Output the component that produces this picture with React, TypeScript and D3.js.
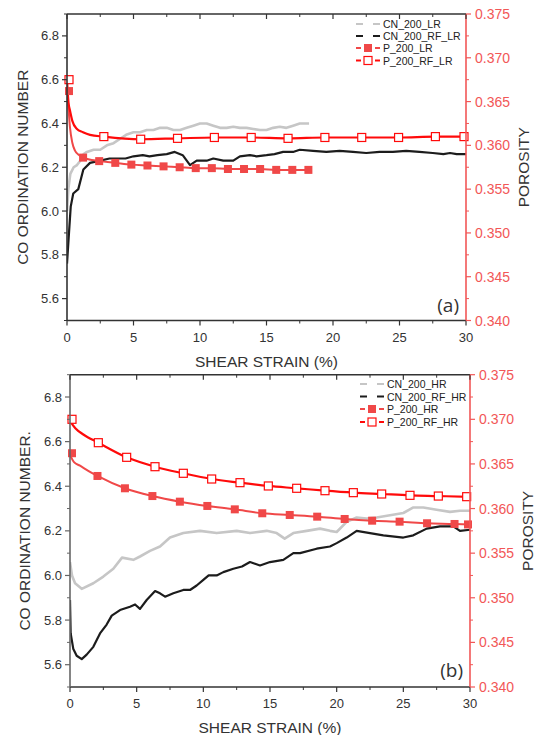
import React from 'react';
import * as d3 from 'd3';

// ---------- shared ticks ----------
const strainTicks = [0, 5, 10, 15, 20, 25, 30];
const strainMinor = [2.5, 7.5, 12.5, 17.5, 22.5, 27.5];
const cnTicks = [5.6, 5.8, 6.0, 6.2, 6.4, 6.6, 6.8];
const cnMinor = [5.5, 5.7, 5.9, 6.1, 6.3, 6.5, 6.7, 6.9];
const porTicks = [0.34, 0.345, 0.35, 0.355, 0.36, 0.365, 0.37, 0.375];
const porMinor = [0.3425, 0.3475, 0.3525, 0.3575, 0.3625, 0.3675, 0.3725];

// ---------- panel (a) ----------
const cnLR_x = [0, 0.1, 0.25, 0.5, 0.75, 1, 1.25, 1.5, 2, 2.5, 3, 3.5, 4, 4.5, 5, 5.5, 6, 6.5, 7, 7.5, 8, 8.5, 9, 9.5, 10, 10.5, 11, 11.5, 12, 12.5, 13, 13.5, 14, 14.5, 15, 15.5, 16, 16.5, 17, 17.5, 18, 18.2];
const cnLR_y = [6.0, 6.1, 6.17, 6.2, 6.21, 6.23, 6.26, 6.27, 6.28, 6.28, 6.3, 6.31, 6.33, 6.35, 6.36, 6.36, 6.37, 6.37, 6.38, 6.38, 6.37, 6.37, 6.38, 6.39, 6.4, 6.4, 6.39, 6.38, 6.38, 6.385, 6.38, 6.38, 6.375, 6.37, 6.37, 6.38, 6.385, 6.38, 6.39, 6.4, 6.4, 6.4];

const cnRFLR_x = [0, 0.15, 0.28, 0.47, 0.85, 1.23, 1.73, 2.5, 3.2, 3.7, 4.4, 5, 5.7, 6.2, 6.8, 7.5, 8.1, 8.7, 9.25, 9.75, 10.5, 11, 11.75, 12.5, 13, 13.75, 14.25, 15, 15.6, 16.25, 17, 17.5, 18.5, 19.5, 20.5, 21.5, 22.5, 23.5, 24.5, 25.5, 26.5, 27.5, 28.3, 28.8, 29.3, 30];
const cnRFLR_y = [5.76, 5.9, 6.02, 6.08, 6.1, 6.19, 6.22, 6.23, 6.24, 6.24, 6.24, 6.25, 6.255, 6.25, 6.255, 6.26, 6.27, 6.255, 6.21, 6.23, 6.23, 6.24, 6.23, 6.23, 6.25, 6.255, 6.25, 6.255, 6.26, 6.27, 6.27, 6.28, 6.275, 6.27, 6.275, 6.27, 6.265, 6.27, 6.27, 6.275, 6.27, 6.265, 6.26, 6.265, 6.26, 6.26];

const pLR_mx = [0.15, 1.21, 2.42, 3.63, 4.84, 6.05, 7.26, 8.47, 9.68, 10.89, 12.1, 13.31, 14.52, 15.73, 16.94, 18.15];
const pLR_my = [0.3662, 0.3586, 0.3582, 0.358, 0.3578, 0.3577, 0.3576, 0.3575, 0.3574, 0.3574, 0.3573, 0.3573, 0.3573, 0.3572, 0.3572, 0.3572];
const pLR_lx = [0, 0.1, 0.22, 0.4, 0.6, 0.9, 1.21, 2.42, 3.63, 4.84, 6.05, 7.26, 8.47, 9.68, 10.89, 12.1, 13.31, 14.52, 15.73, 16.94, 18.15];
const pLR_ly = [0.3662, 0.3645, 0.3621, 0.3603, 0.3594, 0.3589, 0.3586, 0.3582, 0.358, 0.3578, 0.3577, 0.3576, 0.3575, 0.3574, 0.3574, 0.3573, 0.3573, 0.3573, 0.3572, 0.3572, 0.3572];

const pRFLR_mx = [0.15, 2.77, 5.54, 8.31, 11.08, 13.85, 16.62, 19.39, 22.16, 24.93, 27.7, 29.85];
const pRFLR_my = [0.3675, 0.361, 0.3607, 0.3608, 0.3609, 0.3609, 0.3608, 0.3609, 0.3609, 0.3609, 0.361, 0.361];
const pRFLR_lx = [0, 0.05, 0.12, 0.22, 0.4, 0.73, 1.2, 1.73, 2.77, 5.54, 8.31, 11.08, 13.85, 16.62, 19.39, 22.16, 24.93, 27.7, 30];
const pRFLR_ly = [0.3675, 0.3662, 0.3648, 0.364, 0.3628, 0.3619, 0.3615, 0.3612, 0.361, 0.3607, 0.3608, 0.3609, 0.3609, 0.3608, 0.3609, 0.3609, 0.3609, 0.361, 0.361];

// ---------- panel (b) ----------
const cnHR_x = [0, 0.15, 0.38, 0.88, 1.75, 2.5, 3.25, 3.9, 4.75, 5.25, 6, 6.75, 7.5, 8.5, 9.75, 11, 12.5, 13.5, 14.75, 15.5, 16.1, 16.75, 17.75, 18.75, 19.5, 20, 20.75, 21.5, 22.25, 23, 24, 25, 25.75, 26.5, 27.5, 28.5, 29.25, 30];
const cnHR_y = [6.06, 6.0, 5.965, 5.94, 5.965, 5.995, 6.03, 6.08, 6.07, 6.085, 6.11, 6.13, 6.17, 6.19, 6.2, 6.19, 6.2, 6.19, 6.2, 6.19, 6.165, 6.19, 6.2, 6.21, 6.2, 6.195, 6.24, 6.26, 6.255, 6.26, 6.27, 6.28, 6.305, 6.305, 6.295, 6.285, 6.29, 6.29];

const cnRFHR_x = [0, 0.05, 0.25, 0.5, 0.88, 1.25, 1.75, 2.25, 2.75, 3.13, 3.75, 4.5, 4.88, 5.25, 5.75, 6.38, 6.75, 7.13, 7.75, 8.5, 9, 9.5, 10, 10.4, 11, 11.5, 12.25, 12.9, 13.5, 14.25, 15, 16, 16.75, 17.25, 18.5, 19.5, 20, 20.75, 21.5, 22.5, 23.5, 25, 25.75, 26.75, 27.75, 28.75, 29.25, 30];
const cnRFHR_y = [5.89, 5.74, 5.67, 5.64, 5.625, 5.645, 5.68, 5.74, 5.78, 5.82, 5.845, 5.86, 5.87, 5.85, 5.89, 5.93, 5.92, 5.905, 5.92, 5.935, 5.935, 5.955, 5.98, 6.0, 6.0, 6.015, 6.03, 6.04, 6.06, 6.045, 6.06, 6.07, 6.1, 6.1, 6.12, 6.13, 6.145, 6.17, 6.2, 6.19, 6.18, 6.17, 6.18, 6.21, 6.22, 6.22, 6.2, 6.205];

const pHR_mx = [0.15, 2.06, 4.12, 6.18, 8.24, 10.3, 12.36, 14.42, 16.48, 18.54, 20.6, 22.66, 24.72, 26.78, 28.84, 29.85];
const pHR_my = [0.3662, 0.36365, 0.36227, 0.3614, 0.36077, 0.36029, 0.35991, 0.35947, 0.35928, 0.35909, 0.35883, 0.35864, 0.35853, 0.35835, 0.35827, 0.35822];
const pHR_lx = [0, 0.3, 0.75, 1.4, 2.06, 4.12, 6.18, 8.24, 10.3, 12.36, 14.42, 16.48, 18.54, 20.6, 22.66, 24.72, 26.78, 28.84, 30];
const pHR_ly = [0.366, 0.3652, 0.3648, 0.3642, 0.36365, 0.36227, 0.3614, 0.36077, 0.36029, 0.35991, 0.35947, 0.35928, 0.35909, 0.35883, 0.35864, 0.35853, 0.35835, 0.35827, 0.3582];

const pRFHR_mx = [0.15, 2.125, 4.25, 6.375, 8.5, 10.625, 12.75, 14.875, 17, 19.125, 21.25, 23.375, 25.5, 27.625, 29.75];
const pRFHR_my = [0.37, 0.36738, 0.36574, 0.36469, 0.36395, 0.36331, 0.3629, 0.36253, 0.36227, 0.362, 0.36178, 0.36163, 0.36148, 0.3614, 0.36133];
const pRFHR_lx = [0, 0.4, 1.0, 2.125, 4.25, 6.375, 8.5, 10.625, 12.75, 14.875, 17, 19.125, 21.25, 23.375, 25.5, 27.625, 30];
const pRFHR_ly = [0.3698, 0.369, 0.3683, 0.36738, 0.36574, 0.36469, 0.36395, 0.36331, 0.3629, 0.36253, 0.36227, 0.362, 0.36178, 0.36163, 0.36148, 0.3614, 0.3613];

const legendA = ['CN_200_LR', 'CN_200_RF_LR', 'P_200_LR', 'P_200_RF_LR'];
const legendB = ['CN_200_HR', 'CN_200_RF_HR', 'P_200_HR', 'P_200_RF_HR'];

const FONT = "'Liberation Sans', Arial, sans-serif";
const GRAY = '#c6c6c6';
const BLACK = '#1c1c1c';
const RED_F = '#f04848';
const RED_O = '#ff0a0a';
const AX_RED = '#f25757';

const zip = (a: number[], b: number[]) => a.map((v, i) => [v, b[i]] as [number, number]);

type Box = { l: number; r: number; t: number; b: number };

function Panel(props: {
  id: string; box: Box; cnA: [number, number][]; cnB: [number, number][];
  pA: [number, number][]; pAm: [number, number][]; pB: [number, number][]; pBm: [number, number][];
  legend: string[]; legX: number; legY: number[]; tag: string; tagX: number; tagY: number;
  yLabel: string; yLabelX: number; pLabelX: number; xLabelY: number; axColor: string;
}) {
  const { box } = props;
  const x = d3.scaleLinear().domain([0, 30]).range([box.l, box.r]);
  const yL = d3.scaleLinear().domain([5.5, 6.9]).range([box.b, box.t]);
  const yR = d3.scaleLinear().domain([0.34, 0.375]).range([box.b, box.t]);
  const lineL = d3.line<[number, number]>().x(d => x(d[0])).y(d => yL(d[1]));
  const lineR = d3.line<[number, number]>().x(d => x(d[0])).y(d => yR(d[1])).curve(d3.curveMonotoneX);
  const ms = 8;
  const cy = (box.t + box.b) / 2;
  const cx = (box.l + box.r) / 2;
  const lx = props.legX;
  return (
    <g fontFamily={FONT}>
      <defs>
        <clipPath id={props.id}>
          <rect x={box.l} y={box.t} width={box.r - box.l} height={box.b - box.t} />
        </clipPath>
      </defs>
      <g clipPath={`url(#${props.id})`}>
        <path d={lineL(props.cnA) || ''} fill="none" stroke={GRAY} strokeWidth={2.6} strokeLinejoin="round" />
        <path d={lineL(props.cnB) || ''} fill="none" stroke={BLACK} strokeWidth={2.2} strokeLinejoin="round" />
        <path d={lineR(props.pA) || ''} fill="none" stroke={RED_F} strokeWidth={2} />
        <path d={lineR(props.pB) || ''} fill="none" stroke={RED_O} strokeWidth={2.2} />
      </g>
      {props.pAm.map((d, i) => (
        <rect key={'a' + i} x={x(d[0]) - ms / 2} y={yR(d[1]) - ms / 2} width={ms} height={ms} fill={RED_F} />
      ))}
      {props.pBm.map((d, i) => (
        <rect key={'b' + i} x={x(d[0]) - ms / 2} y={yR(d[1]) - ms / 2} width={ms} height={ms} fill="#fff" stroke={RED_O} strokeWidth={1.2} />
      ))}
      {/* axes frame */}
      <line x1={box.l} x2={box.r} y1={box.t} y2={box.t} stroke="#333" strokeWidth={1.4} />
      <line x1={box.l} x2={box.r} y1={box.b} y2={box.b} stroke="#333" strokeWidth={1.4} />
      <line x1={box.l} x2={box.l} y1={box.t} y2={box.b} stroke={props.axColor} strokeWidth={1.6} />
      <line x1={box.r} x2={box.r} y1={box.t} y2={box.b} stroke={AX_RED} strokeWidth={1.6} />
      {/* x ticks */}
      {strainTicks.map(t => (
        <g key={'xt' + t}>
          <line x1={x(t)} x2={x(t)} y1={box.b} y2={box.b + 5} stroke="#333" strokeWidth={1.2} />
          <line x1={x(t)} x2={x(t)} y1={box.t} y2={box.t + 5} stroke="#333" strokeWidth={1.2} />
          <text x={x(t)} y={box.b + 21} textAnchor="middle" fontSize={13} fill="#333">{t}</text>
        </g>
      ))}
      {strainMinor.map(t => (
        <g key={'xm' + t}>
          <line x1={x(t)} x2={x(t)} y1={box.b} y2={box.b + 3} stroke="#333" strokeWidth={1} />
          <line x1={x(t)} x2={x(t)} y1={box.t} y2={box.t + 3} stroke="#333" strokeWidth={1} />
        </g>
      ))}
      {/* left ticks */}
      {cnTicks.map(t => (
        <g key={'yl' + t}>
          <line x1={box.l - 5} x2={box.l} y1={yL(t)} y2={yL(t)} stroke={props.axColor} strokeWidth={1.2} />
          <text x={box.l - 8} y={yL(t) + 4.5} textAnchor="end" fontSize={13} fill="#333">{t.toFixed(1)}</text>
        </g>
      ))}
      {cnMinor.map(t => (
        <line key={'ylm' + t} x1={box.l - 3} x2={box.l} y1={yL(t)} y2={yL(t)} stroke={props.axColor} strokeWidth={1} />
      ))}
      {/* right ticks */}
      {porTicks.map(t => (
        <g key={'yr' + t}>
          <line x1={box.r} x2={box.r + 5} y1={yR(t)} y2={yR(t)} stroke={AX_RED} strokeWidth={1.2} />
          <text x={box.r + 9} y={yR(t) + 5} textAnchor="start" fontSize={14} fill={AX_RED}>{t.toFixed(3)}</text>
        </g>
      ))}
      {porMinor.map(t => (
        <line key={'yrm' + t} x1={box.r} x2={box.r + 3} y1={yR(t)} y2={yR(t)} stroke={AX_RED} strokeWidth={1} />
      ))}
      {/* axis titles */}
      <text x={cx} y={props.xLabelY} textAnchor="middle" fontSize={15.5} fill="#333">SHEAR STRAIN (%)</text>
      <text transform={`translate(${props.yLabelX},${cy}) rotate(-90)`} textAnchor="middle" fontSize={15.5} fill="#333">{props.yLabel}</text>
      <text transform={`translate(${props.pLabelX},${cy}) rotate(-90)`} textAnchor="middle" fontSize={15.5} fill="#333">POROSITY</text>
      <text x={props.tagX} y={props.tagY} textAnchor="end" fontSize={19} fill="#333" fontFamily="'Open Sans', sans-serif">{props.tag}</text>
      {/* legend */}
      <g fontSize={10.5} fill="#222">
        <line x1={lx} x2={lx + 24} y1={props.legY[0]} y2={props.legY[0]} stroke={GRAY} strokeWidth={2.2} strokeDasharray="7,10" />
        <text x={lx + 27} y={props.legY[0] + 4}>{props.legend[0]}</text>
        <line x1={lx} x2={lx + 24} y1={props.legY[1]} y2={props.legY[1]} stroke={BLACK} strokeWidth={2.2} strokeDasharray="7,10" />
        <text x={lx + 27} y={props.legY[1] + 4}>{props.legend[1]}</text>
        <line x1={lx} x2={lx + 5} y1={props.legY[2]} y2={props.legY[2]} stroke={RED_F} strokeWidth={2} />
        <line x1={lx + 19} x2={lx + 24} y1={props.legY[2]} y2={props.legY[2]} stroke={RED_F} strokeWidth={2} />
        <rect x={lx + 8} y={props.legY[2] - 4} width={8} height={8} fill={RED_F} />
        <text x={lx + 27} y={props.legY[2] + 4}>{props.legend[2]}</text>
        <line x1={lx} x2={lx + 5} y1={props.legY[3]} y2={props.legY[3]} stroke={RED_O} strokeWidth={2} />
        <line x1={lx + 19} x2={lx + 24} y1={props.legY[3]} y2={props.legY[3]} stroke={RED_O} strokeWidth={2} />
        <rect x={lx + 8} y={props.legY[3] - 4} width={8} height={8} fill="#fff" stroke={RED_O} strokeWidth={1.2} />
        <text x={lx + 27} y={props.legY[3] + 4}>{props.legend[3]}</text>
      </g>
    </g>
  );
}

export default function App() {
  return (
    <svg width={538} height={735} style={{ position: 'absolute', left: 0, top: 0, background: '#fff' }}>
      <Panel id="clipA" box={{ l: 67, r: 466, t: 14, b: 320.5 }}
        cnA={zip(cnLR_x, cnLR_y)} cnB={zip(cnRFLR_x, cnRFLR_y)}
        pA={zip(pLR_lx, pLR_ly)} pAm={zip(pLR_mx, pLR_my)}
        pB={zip(pRFLR_lx, pRFLR_ly)} pBm={zip(pRFLR_mx, pRFLR_my)}
        legend={legendA} legX={356} legY={[24, 36, 48, 60.5]}
        tag="(a)" tagX={459} tagY={312} yLabel="CO ORDINATION NUMBER" yLabelX={28}
        pLabelX={529} xLabelY={367} axColor="#333" />
      <Panel id="clipB" box={{ l: 70, r: 470, t: 374.7, b: 687 }}
        cnA={zip(cnHR_x, cnHR_y)} cnB={zip(cnRFHR_x, cnRFHR_y)}
        pA={zip(pHR_lx, pHR_ly)} pAm={zip(pHR_mx, pHR_my)}
        pB={zip(pRFHR_lx, pRFHR_ly)} pBm={zip(pRFHR_mx, pRFHR_my)}
        legend={legendB} legX={360} legY={[384, 396.5, 409, 422]}
        tag="(b)" tagX={463} tagY={677} yLabel="CO ORDINATION NUMBER." yLabelX={30}
        pLabelX={533} xLabelY={733} axColor="#666" />
    </svg>
  );
}
